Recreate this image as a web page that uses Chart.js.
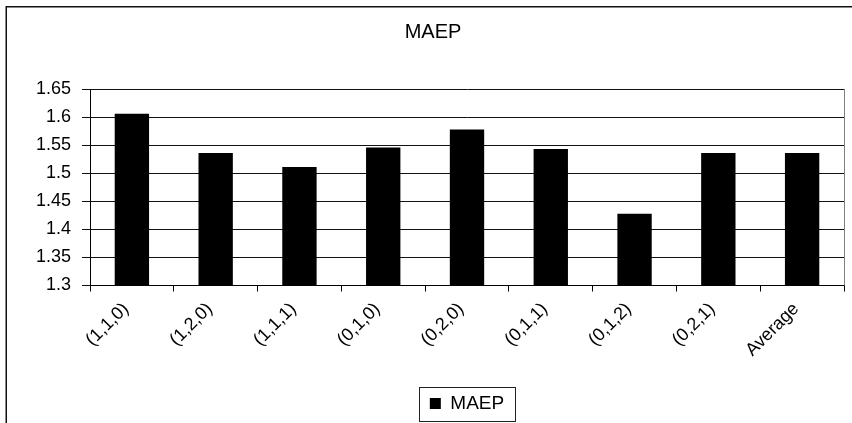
<!DOCTYPE html>
<html>
<head>
<meta charset="utf-8">
<title>MAEP</title>
<script src="https://cdn.jsdelivr.net/npm/chart.js@4.4.1/dist/chart.umd.min.js"></script>
<style>
  html, body { margin: 0; padding: 0; background: #fff; }
  #wrap { width: 852px; height: 423px; }
</style>
</head>
<body>
<div id="wrap"><canvas id="maepChart" width="852" height="423"></canvas></div>
<script>
// categories and values
const configs = ["(1,1,0)", "(1,2,0)", "(1,1,1)", "(0,1,0)", "(0,2,0)", "(0,1,1)", "(0,1,2)", "(0,2,1)", "Average"];
const maep = [1.606, 1.536, 1.511, 1.546, 1.578, 1.543, 1.428, 1.536, 1.536];
const yTicks = [1.3, 1.35, 1.4, 1.45, 1.5, 1.55, 1.6, 1.65];

const FONT = "'Liberation Sans', Arial, sans-serif";

// outer frame (left + top edge) and plot right edge
const framePlugin = {
  id: "frame",
  beforeDraw(chart) {
    const ctx = chart.ctx;
    ctx.save();
    ctx.fillStyle = "#fff";
    ctx.fillRect(0, 0, chart.width, chart.height);
    ctx.strokeStyle = "#111";
    ctx.lineWidth = 1.5;
    ctx.beginPath();
    ctx.moveTo(6.25, chart.height);
    ctx.lineTo(6.25, 6.75);
    ctx.lineTo(chart.width, 6.75);
    ctx.stroke();
    ctx.restore();
  },
  afterDatasetsDraw(chart) {
    const { ctx, chartArea } = chart;
    ctx.save();
    ctx.strokeStyle = "#808080";
    ctx.lineWidth = 1;
    ctx.beginPath();
    ctx.moveTo(Math.round(chartArea.right) + 0.5, chartArea.top);
    ctx.lineTo(Math.round(chartArea.right) + 0.5, chartArea.bottom);
    ctx.stroke();
    ctx.restore();
  },
  afterDraw(chart) {
    // box around the legend
    const lg = chart.legend;
    if (!lg || !lg.legendHitBoxes.length) return;
    const hb = lg.legendHitBoxes[0];
    const ctx = chart.ctx;
    ctx.save();
    ctx.strokeStyle = "#222";
    ctx.lineWidth = 1;
    const x = Math.round(hb.left - 11) + 0.5;
    const y = Math.round(hb.top - 7.5) + 0.5;
    const w = Math.round(hb.width + 22);
    const h = Math.round(hb.height + 15);
    ctx.strokeRect(x, y, w, h);
    ctx.restore();
  }
};

new Chart(document.getElementById("maepChart"), {
  type: "bar",
  data: {
    labels: configs,
    datasets: [
      {
        label: "MAEP",
        data: maep,
        backgroundColor: "#000",
        borderWidth: 0,
        categoryPercentage: 1,
        barPercentage: 0.41
      }
    ]
  },
  options: {
    responsive: false,
    animation: false,
    devicePixelRatio: 1,
    layout: { padding: { top: 8, left: 22, right: 8, bottom: 0 } },
    plugins: {
      tooltip: { enabled: false },
      title: {
        display: true,
        text: "MAEP",
        color: "#000",
        font: { family: FONT, size: 20, weight: "normal" },
        padding: { top: 12, bottom: 45 }
      },
      legend: {
        display: true,
        position: "bottom",
        fullSize: false,
        labels: {
          color: "#000",
          font: { family: FONT, size: 19 },
          boxWidth: 11,
          boxHeight: 11,
          padding: 10
        }
      }
    },
    scales: {
      x: {
        offset: true,
        grid: { display: true, drawOnChartArea: false, offset: true, color: "#000", tickLength: 6 },
        border: { color: "#000", width: 1 },
        ticks: {
          color: "#000",
          font: { family: FONT, size: 18 },
          minRotation: 45,
          maxRotation: 45,
          padding: 7,
          labelOffset: -6,
          autoSkip: false
        },
        afterFit(axis) { axis.height = 98.5; }
      },
      y: {
        min: 1.3,
        max: 1.65,
        afterBuildTicks(axis) { axis.ticks = yTicks.map(v => ({ value: v })); },
        grid: { color: "#111", tickLength: 8 },
        border: { color: "#000", width: 1 },
        ticks: {
          color: "#000",
          font: { family: FONT, size: 18 },
          padding: 11,
          callback: v => String(+v.toFixed(2))
        },
        afterFit(axis) { axis.width = 68; }
      }
    }
  },
  plugins: [framePlugin]
});
</script>
</body>
</html>
